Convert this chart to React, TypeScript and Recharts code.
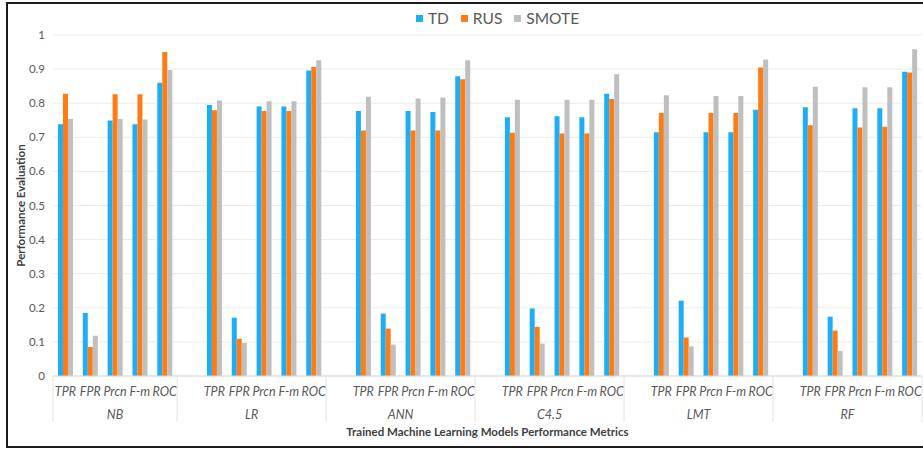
import React from 'react';
import { BarChart, Bar, XAxis, YAxis, CartesianGrid } from 'recharts';

const models = ['NB', 'LR', 'ANN', 'C4.5', 'LMT', 'RF'];
const metrics = ['TPR', 'FPR', 'Prcn', 'F-m', 'ROC'];

// values per model, in metric order TPR, FPR, Prcn, F-m, ROC
const tdValues = [
  [0.738, 0.185, 0.749, 0.738, 0.860],
  [0.795, 0.171, 0.790, 0.790, 0.896],
  [0.777, 0.183, 0.777, 0.774, 0.879],
  [0.759, 0.198, 0.762, 0.759, 0.828],
  [0.715, 0.221, 0.715, 0.715, 0.781],
  [0.788, 0.174, 0.785, 0.785, 0.892],
];
const rusValues = [
  [0.828, 0.085, 0.826, 0.826, 0.950],
  [0.779, 0.109, 0.777, 0.777, 0.906],
  [0.720, 0.139, 0.720, 0.720, 0.870],
  [0.713, 0.144, 0.711, 0.711, 0.812],
  [0.771, 0.113, 0.771, 0.771, 0.905],
  [0.735, 0.133, 0.729, 0.731, 0.890],
];
const smoteValues = [
  [0.754, 0.118, 0.754, 0.752, 0.897],
  [0.808, 0.097, 0.806, 0.806, 0.926],
  [0.819, 0.092, 0.814, 0.817, 0.926],
  [0.810, 0.095, 0.810, 0.810, 0.885],
  [0.823, 0.087, 0.821, 0.821, 0.928],
  [0.848, 0.073, 0.847, 0.847, 0.958],
];

const yTicks = [0, 0.1, 0.2, 0.3, 0.4, 0.5, 0.6, 0.7, 0.8, 0.9, 1];

const series = [
  { key: 'TD', color: '#1FAEF5' },
  { key: 'RUS', color: '#FF7B14' },
  { key: 'SMOTE', color: '#BFBFBF' },
];

// one empty slot sits in front of every model after the first
const rows: any[] = [];
const groups: { start: number; end: number; name: string }[] = [];
models.forEach((model, m) => {
  const start = rows.length;
  if (m > 0) rows.push({ key: `gap-${m}`, metric: '', model });
  metrics.forEach((metric, i) => {
    rows.push({
      key: `${model}-${metric}`,
      metric,
      model,
      TD: tdValues[m][i],
      RUS: rusValues[m][i],
      SMOTE: smoteValues[m][i],
    });
  });
  groups.push({ start, end: rows.length - 1, name: model });
});

const W = 923;
const H = 450;
const Y_AXIS_W = 53;
const RIGHT = 1;
const TOP = 35;
const X_AXIS_H = 74;
const BAND = (W - Y_AXIS_W - RIGHT) / rows.length;
const AXIS_Y = H - X_AXIS_H;

const FONT = "Lato, 'Open Sans', sans-serif";
const TEXT = '#595959';

const MetricTick = (props: any) => {
  const { x, index } = props;
  const row = rows[index];
  const group = groups.find((g) => g.start === index);
  const isLast = index === rows.length - 1;
  return (
    <g>
      {row && row.metric && (
        <text x={x} y={AXIS_Y + 20} textAnchor="middle" fontSize={12.5} fontStyle="italic" fill={TEXT} fontFamily={FONT}>
          {row.metric}
        </text>
      )}
      {group && (
        <>
          <line x1={x - BAND / 2} x2={x - BAND / 2} y1={AXIS_Y} y2={AXIS_Y + 46} stroke="#E3E3E3" />
          <text
            x={x - BAND / 2 + ((group.end - group.start + 1) * BAND) / 2}
            y={AXIS_Y + 43}
            textAnchor="middle"
            fontSize={12.5}
            fontStyle="italic"
            fill={TEXT}
            fontFamily={FONT}
          >
            {group.name}
          </text>
        </>
      )}
      {isLast && <line x1={x + BAND / 2} x2={x + BAND / 2} y1={AXIS_Y} y2={AXIS_Y + 46} stroke="#E3E3E3" />}
    </g>
  );
};

const YTitle = () => (
  <text
    x={22}
    y={(TOP + AXIS_Y) / 2}
    transform={`rotate(-90 22 ${(TOP + AXIS_Y) / 2})`}
    textAnchor="middle"
    dominantBaseline="middle"
    fontSize={11.5}
    fontWeight="bold"
    fill="#404040"
    fontFamily={FONT}
  >
    Performance Evaluation
  </text>
);

const XTitle = () => (
  <text
    x={Y_AXIS_W + (W - Y_AXIS_W - RIGHT) / 2}
    y={436}
    textAnchor="middle"
    fontSize={11.5}
    fontWeight="bold"
    fill="#404040"
    fontFamily={FONT}
  >
    Trained Machine Learning Models Performance Metrics
  </text>
);

const App = () => {
  return (
    <div style={{ position: 'absolute', left: 0, top: 0, width: W, height: H, overflow: 'hidden', background: '#fff' }}>
      <div
        style={{
          position: 'absolute',
          left: 6,
          top: 2,
          width: W + 20,
          height: 442,
          border: '2px solid #1c1c1c',
          pointerEvents: 'none',
        }}
      />
      <div
        style={{
          position: 'absolute',
          top: 9,
          left: 0,
          width: W,
          display: 'flex',
          justifyContent: 'center',
          paddingLeft: 72,
          boxSizing: 'border-box',
          fontFamily: FONT,
          fontSize: 15.5,
          color: TEXT,
        }}
      >
        {series.map((s) => (
          <div key={s.key} style={{ display: 'flex', alignItems: 'center', margin: '0 6px' }}>
            <span style={{ width: 7, height: 7, background: s.color, display: 'inline-block', marginRight: 5 }} />
            <span>{s.key}</span>
          </div>
        ))}
      </div>
      <BarChart
        width={W}
        height={H}
        data={rows}
        margin={{ top: TOP, right: RIGHT, bottom: 0, left: 0 }}
        barCategoryGap="20%"
        barGap={0}
        style={{ position: 'absolute', left: 0, top: 0 }}
      >
        <CartesianGrid vertical={false} stroke="#EBEBEB" />
        <XAxis
          dataKey="key"
          height={X_AXIS_H}
          interval={0}
          tickLine={false}
          axisLine={{ stroke: '#D9D9D9' }}
          tick={<MetricTick />}
          label={<XTitle />}
        />
        <YAxis
          width={Y_AXIS_W}
          domain={[0, 1]}
          ticks={yTicks}
          tickLine={false}
          axisLine={false}
          tick={{ fontSize: 11.5, fill: TEXT, fontFamily: FONT }}
          tickFormatter={(v: number) => String(v)}
          label={<YTitle />}
        />
        {series.map((s) => (
          <Bar key={s.key} dataKey={s.key} fill={s.color} isAnimationActive={false} />
        ))}
      </BarChart>
    </div>
  );
};

export default App;
